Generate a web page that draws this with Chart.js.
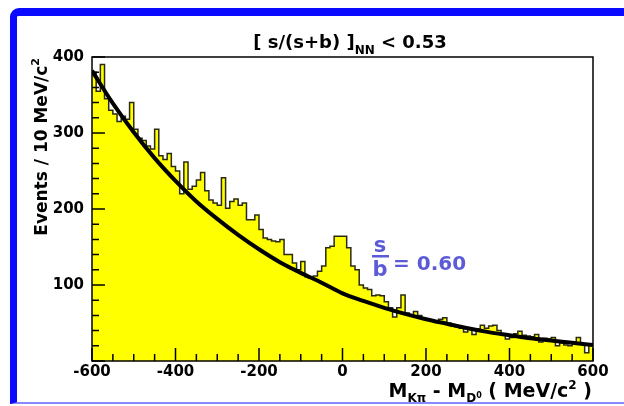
<!DOCTYPE html>
<html>
<head>
<meta charset="utf-8">
<script src="https://cdn.jsdelivr.net/npm/chart.js@4.4.1/dist/chart.umd.min.js"></script>
<style>
  html, body { margin: 0; padding: 0; background: #fff; }
  #frame {
    position: absolute; left: 10px; top: 8px; width: 620px; height: 386px;
    border-top: 8px solid #0a0aff; border-left: 7px solid #0a0aff;
    border-bottom: 2px solid #8a8aff; border-top-left-radius: 9px;
    background: #fff;
  }
  #wrap { position: absolute; left: 0; top: 0; width: 624px; height: 406px; }
</style>
</head>
<body>
<div id="frame"></div>
<div id="wrap"><canvas id="c" width="624" height="406"></canvas></div>
<script>
// histogram: 10 MeV bins from -600 to 600
const binLow = -600;
const binWidth = 10;
const binCounts = [
  380, 355, 390, 345, 330, 325, 315, 322, 318, 340,
  305, 293, 290, 283, 279, 305, 270, 265, 273, 256,
  250, 220, 262, 226, 230, 238, 248, 224, 212, 208,
  205, 241, 201, 210, 213, 205, 208, 186, 186, 192,
  173, 162, 160, 158, 157, 160, 140, 140, 129, 120,
  131, 111, 109, 112, 118, 125, 149, 151, 164, 164,
  164, 149, 125, 120, 100, 96, 94, 86, 87, 86,
  78, 70, 58, 70, 87, 63, 61, 65, 60, 56,
  54, 54, 53, 55, 57, 50, 46, 45, 43, 38,
  42, 35, 42, 47, 43, 46, 47, 40, 35, 29,
  31, 36, 39, 34, 33, 32, 35, 25, 30, 29,
  31, 20, 24, 21, 20, 24, 31, 22, 11, 22
];

// background fit curve
const fitX = [-600, -550, -500, -450, -400, -350, -300, -250, -200, -150, -100, -50,
              0, 50, 100, 150, 200, 250, 300, 350, 400, 450, 500, 550, 600];
const fitY = [382, 339, 301, 267, 237, 210, 187, 166, 147, 130, 116, 103,
              89, 79, 70, 62, 55, 49, 43, 38, 34, 30, 27, 24, 21];

const xTicks = [-600, -400, -200, 0, 200, 400, 600];
const yTicks = [100, 200, 300, 400];

const FONT = '"DejaVu Sans", sans-serif';

// build step outline for the histogram
const histPoints = [];
binCounts.forEach((v, i) => {
  const lo = binLow + i * binWidth;
  histPoints.push({ x: lo, y: v });
  histPoints.push({ x: lo + binWidth, y: v });
});
const fitPoints = fitX.map((x, i) => ({ x: x, y: fitY[i] }));

// draws a row of text pieces (for sub/superscripts)
function drawRuns(ctx, runs, x, y, align) {
  let total = 0;
  runs.forEach(r => { ctx.font = 'bold ' + r.size + 'px ' + FONT; total += ctx.measureText(r.t).width; });
  let cx = align === 'center' ? x - total / 2 : align === 'right' ? x - total : x;
  ctx.textAlign = 'left';
  ctx.textBaseline = 'alphabetic';
  runs.forEach(r => {
    ctx.font = 'bold ' + r.size + 'px ' + FONT;
    ctx.fillText(r.t, cx, y + (r.dy || 0));
    cx += ctx.measureText(r.t).width;
  });
}

const decorations = {
  id: 'decorations',
  afterDraw(chart) {
    const { ctx, chartArea: a, scales } = chart;
    const xs = scales.x, ys = scales.y;
    ctx.save();
    ctx.strokeStyle = '#000';
    ctx.fillStyle = '#000';

    // inner tick marks
    ctx.lineWidth = 1.5;
    ctx.beginPath();
    for (let v = -600; v <= 600; v += 50) {
      const px = xs.getPixelForValue(v);
      const len = v % 200 === 0 ? 13 : 7;
      ctx.moveTo(px, a.bottom);
      ctx.lineTo(px, a.bottom - len);
    }
    for (let v = 0; v <= 400; v += 20) {
      const py = ys.getPixelForValue(v);
      const len = v % 100 === 0 ? 13 : 7;
      ctx.moveTo(a.left, py);
      ctx.lineTo(a.left + len, py);
    }
    ctx.stroke();

    // frame
    ctx.lineWidth = 1.5;
    ctx.strokeRect(a.left, a.top, a.right - a.left, a.bottom - a.top);

    // title
    drawRuns(ctx, [
      { t: '[ s/(s+b) ]', size: 18 },
      { t: 'NN', size: 12, dy: 6 },
      { t: ' < 0.53', size: 18 }
    ], 350, 48, 'center');

    // x axis title
    drawRuns(ctx, [
      { t: 'M', size: 19 },
      { t: 'K\u03c0', size: 12, dy: 5 },
      { t: ' - M', size: 19 },
      { t: 'D', size: 12, dy: 5 },
      { t: '0', size: 8, dy: 1 },
      { t: ' ( MeV/c', size: 19 },
      { t: '2', size: 12, dy: -8 },
      { t: ' )', size: 19 }
    ], 592, 397, 'right');

    // y axis title, rotated
    ctx.save();
    ctx.translate(47, 58);
    ctx.rotate(-Math.PI / 2);
    drawRuns(ctx, [
      { t: 'Events / 10 MeV/c', size: 17 },
      { t: '2', size: 11, dy: -8 }
    ], 0, 0, 'right');
    ctx.restore();

    // s/b annotation
    ctx.fillStyle = '#5b5bd8';
    ctx.font = 'bold 21px ' + FONT;
    ctx.textAlign = 'center';
    ctx.textBaseline = 'alphabetic';
    ctx.fillText('s', 380, 252);
    ctx.fillText('b', 380, 276);
    ctx.fillRect(372, 255, 17, 2.5);
    ctx.textAlign = 'left';
    ctx.font = 'bold 20px ' + FONT;
    ctx.fillText('= 0.60', 393, 270);
    ctx.restore();
  }
};

new Chart(document.getElementById('c'), {
  type: 'line',
  data: {
    datasets: [
      {
        label: 'fit',
        data: fitPoints,
        borderColor: '#000',
        borderWidth: 4,
        pointRadius: 0,
        fill: false,
        cubicInterpolationMode: 'monotone',
        order: 0
      },
      {
        label: 'data',
        data: histPoints,
        borderColor: '#2a2a10',
        borderWidth: 1.5,
        backgroundColor: '#ffff00',
        pointRadius: 0,
        tension: 0,
        fill: 'origin',
        order: 1
      }
    ]
  },
  options: {
    responsive: false,
    animation: false,
    events: [],
    layout: { padding: { top: 57, right: 31, left: 0, bottom: 0 } },
    plugins: { legend: { display: false }, tooltip: { enabled: false } },
    scales: {
      x: {
        type: 'linear', min: -600, max: 600,
        afterFit: s => { s.height = 45; },
        afterBuildTicks: s => { s.ticks = xTicks.map(v => ({ value: v })); },
        grid: { display: false, drawTicks: false },
        border: { display: false },
        ticks: { color: '#000', padding: 2, maxRotation: 0, autoSkip: false,
                 font: { family: FONT, size: 15, weight: 'bold' } }
      },
      y: {
        type: 'linear', min: 0, max: 400,
        afterFit: s => { s.width = 92; },
        afterBuildTicks: s => { s.ticks = yTicks.map(v => ({ value: v })); },
        grid: { display: false, drawTicks: false },
        border: { display: false },
        ticks: { color: '#000', padding: 8,
                 font: { family: FONT, size: 15, weight: 'bold' } }
      }
    }
  },
  plugins: [decorations]
});
</script>
</body>
</html>
